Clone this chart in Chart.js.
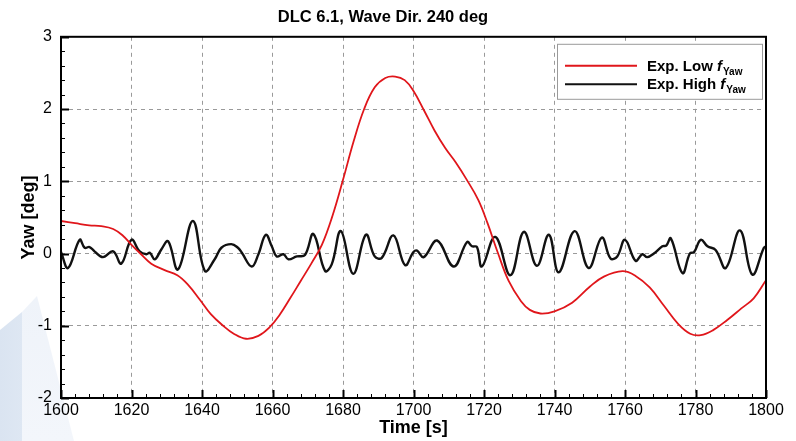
<!DOCTYPE html>
<html>
<head>
<meta charset="utf-8">
<script src="https://cdn.jsdelivr.net/npm/chart.js@4.4.0/dist/chart.umd.min.js"></script>
<style>
html, body { margin: 0; padding: 0; background: #fff; }
#wrap { position: relative; width: 796px; height: 441px; overflow: hidden; }
.deco { position: absolute; left: 0; top: 0; width: 90px; height: 441px; }
#deco1 { clip-path: polygon(0 330px, 22px 312px, 22px 441px, 0 441px); background: linear-gradient(90deg, #dae4f1, #eaf0f8); }
#deco2 { clip-path: polygon(22px 312px, 37px 296px, 74px 441px, 22px 441px); background: linear-gradient(180deg, #e6edf6, #f3f6fb); }
canvas { position: absolute; left: 0; top: 0; }
</style>
</head>
<body>
<div id="wrap">
  <div class="deco" id="deco1"></div>
  <div class="deco" id="deco2"></div>
  <canvas id="yaw-chart" width="796" height="441"></canvas>
</div>
<script>
// axis setup
const xMin = 1600, xMax = 1800, xStep = 20, xMinorPerStep = 5;
const yMin = -2, yMax = 3, yStep = 1, yMinorPerStep = 5;

const seriesNames = ['Exp. Low', 'Exp. High'];
const seriesColors = ['#e0161b', '#111111'];

// Exp. Low f_Yaw (red)
const lowTime = [1600, 1604, 1608, 1611.4, 1614.8, 1617.5, 1620, 1622.5, 1625.6, 1629.4, 1633,
    1636, 1639.4, 1642.5, 1646, 1649, 1652.5, 1656, 1659, 1662, 1665, 1668, 1671, 1674, 1677, 1680,
    1683, 1686, 1689, 1692, 1694.8, 1697.5, 1700, 1703, 1706, 1709, 1712, 1715, 1718.4, 1721, 1724, 1727,
    1730.5, 1733, 1736, 1740, 1745, 1750, 1754, 1759.3, 1763, 1767, 1771, 1775, 1778.5, 1781.5,
    1785, 1789, 1793, 1796.5, 1800];
const lowYaw = [0.45, 0.42, 0.39, 0.38, 0.34, 0.25, 0.12, 0.0, -0.14, -0.23, -0.3,
    -0.43, -0.64, -0.84, -1.0, -1.11, -1.18, -1.14, -1.03, -0.85, -0.62, -0.38, -0.14, 0.12, 0.52, 1.02,
    1.55, 2.0, 2.3, 2.43, 2.45, 2.4, 2.25, 1.98, 1.7, 1.46, 1.26, 1.03, 0.74, 0.42, 0.0, -0.38,
    -0.66, -0.78, -0.83, -0.8, -0.68, -0.46, -0.32, -0.245, -0.31, -0.47, -0.72, -0.97, -1.11, -1.13,
    -1.06, -0.92, -0.76, -0.62, -0.37];

// Exp. High f_Yaw (black)
const highTime = [1600, 1602, 1605.3, 1606.7, 1608.1, 1609.5, 1611.9, 1614.8, 1617.1, 1620, 1622.3, 1624.2,
    1625.2, 1626.6, 1628.5, 1630.4, 1633.2, 1637.4, 1640.8, 1643.6, 1645.5, 1648.3, 1650.2, 1651.3, 1654.1,
    1656, 1658.1, 1659.8, 1661.2, 1663.1, 1664.5, 1666.9, 1669.2, 1671.6, 1674.9, 1676.8, 1679.4, 1682.9,
    1686.5, 1689, 1691, 1694.3, 1697.6, 1700, 1701, 1702.9, 1706.7, 1711.4, 1715.2, 1716.6, 1718, 1719.4,
    1723.2, 1727.5, 1731.3, 1735, 1738.4, 1741.2, 1745.7, 1749.7, 1753.4, 1755.9, 1757.8, 1760, 1763,
    1764.9, 1766.3, 1768.2, 1770.6, 1771.7, 1773, 1776.3, 1778.4, 1779.6, 1781.5, 1783.4, 1785.7, 1788.6,
    1792.6, 1796.1, 1799.4, 1800];
const highYaw = [0.02, -0.2, 0.19, 0.08, 0.09, 0.03, -0.05, 0.03, -0.14, 0.19, 0.03, -0.01,
    0.01, -0.08, 0.06, 0.17, -0.22, 0.45, -0.24, -0.08, 0.08, 0.13, 0.08, 0.01, -0.18,
    -0.01, 0.26, 0.10, -0.04, -0.01, -0.08, -0.04, -0.02, 0.27, -0.24, -0.15, 0.31, -0.28,
    0.26, -0.04, -0.06, 0.25, -0.16, 0.02, 0.04, -0.05, 0.18, -0.18, 0.16, 0.10, 0.09, -0.18,
    0.23, -0.30, 0.30, -0.17, 0.26, -0.26, 0.31, -0.2, 0.22, -0.07, -0.04, 0.19, -0.10,
    -0.01, -0.05, 0.0, 0.10, 0.11, 0.21, -0.27, 0.0, 0.02, 0.19, 0.10, 0.05, -0.2,
    0.32, -0.29, 0.08, 0.10];

const narrowFont = "'Liberation Sans Narrow', 'Liberation Sans', Arial, sans-serif";
const boldFont = "'Liberation Sans', Arial, sans-serif";

function toPoints(ts, vs) {
    return ts.map((t, i) => ({ x: t, y: vs[i] }));
}

// frame, inward ticks and the legend box
const frameAndTicks = {
    id: 'frameAndTicks',
    afterDatasetsDraw(chart) {
        const { ctx, chartArea: a, scales: { x, y } } = chart;
        ctx.save();
        ctx.strokeStyle = '#000';

        // bottom ticks
        const nx = (xMax - xMin) / xStep * xMinorPerStep;
        for (let i = 0; i <= nx; i++) {
            const px = Math.round(x.getPixelForValue(xMin + i * xStep / xMinorPerStep)) + 0.5;
            const major = i % xMinorPerStep === 0;
            ctx.lineWidth = major ? 2 : 1;
            ctx.beginPath();
            ctx.moveTo(px, a.bottom);
            ctx.lineTo(px, a.bottom - (major ? 8 : 4));
            ctx.stroke();
        }
        // left ticks
        const ny = (yMax - yMin) / yStep * yMinorPerStep;
        for (let i = 0; i <= ny; i++) {
            const py = Math.round(y.getPixelForValue(yMin + i * yStep / yMinorPerStep)) + 0.5;
            const major = i % yMinorPerStep === 0;
            ctx.lineWidth = major ? 2 : 1;
            ctx.beginPath();
            ctx.moveTo(a.left, py);
            ctx.lineTo(a.left + (major ? 8 : 4), py);
            ctx.stroke();
        }

        // frame
        ctx.lineWidth = 2;
        ctx.strokeRect(a.left, a.top, a.right - a.left, a.bottom - a.top);

        // legend
        const bx = a.right - 209, by = a.top + 7, bw = 205, bh = 55;
        ctx.fillStyle = '#fff';
        ctx.fillRect(bx, by, bw, bh);
        ctx.strokeStyle = '#9a9a9a';
        ctx.lineWidth = 1;
        ctx.strokeRect(bx + 0.5, by + 0.5, bw, bh);

        chart.data.datasets.forEach((ds, i) => {
            const ly = by + 22 + i * 18.5;
            ctx.strokeStyle = ds.borderColor;
            ctx.lineWidth = 2;
            ctx.beginPath();
            ctx.moveTo(bx + 8, ly);
            ctx.lineTo(bx + 80, ly);
            ctx.stroke();

            ctx.fillStyle = '#000';
            ctx.textBaseline = 'alphabetic';
            let tx = bx + 90;
            ctx.font = "bold 15px " + boldFont;
            const base = seriesNames[i] + ' ';
            ctx.fillText(base, tx, ly + 5);
            tx += ctx.measureText(base).width;
            ctx.font = "italic bold 15px " + boldFont;
            ctx.fillText('f', tx, ly + 5);
            tx += ctx.measureText('f').width + 1;
            ctx.font = "bold 10px " + boldFont;
            ctx.fillText('Yaw', tx, ly + 9);
        });
        ctx.restore();
    }
};

const ctx = document.getElementById('yaw-chart').getContext('2d');

const yawChart = new Chart(ctx, {
    type: 'line',
    data: {
        datasets: [{
            label: seriesNames[0] + ' fYaw',
            data: toPoints(lowTime, lowYaw),
            borderColor: seriesColors[0],
            borderWidth: 1.8,
            pointRadius: 0,
            tension: 0.4,
            fill: false
        },
        {
            label: seriesNames[1] + ' fYaw',
            data: toPoints(highTime, highYaw),
            borderColor: seriesColors[1],
            borderWidth: 2.4,
            pointRadius: 0,
            tension: 0.4,
            fill: false
        }]
    },
    plugins: [frameAndTicks],
    options: {
        responsive: false,
        animation: false,
        layout: {
            padding: { left: 0, right: 30, top: 0, bottom: 0 }
        },
        scales: {
            x: {
                type: 'linear',
                min: xMin,
                max: xMax,
                afterFit: (scale) => { scale.height = 43; },
                ticks: {
                    stepSize: xStep,
                    autoSkip: false,
                    maxRotation: 0,
                    padding: 3,
                    color: '#000',
                    font: { family: narrowFont, size: 16 },
                    callback: (v) => String(v)
                },
                grid: {
                    color: '#9a9a9a',
                    lineWidth: 1,
                    drawTicks: false
                },
                border: { display: false, dash: [4, 4] },
                title: {
                    display: true,
                    text: 'Time [s]',
                    color: '#000',
                    font: { family: boldFont, size: 18, weight: 'bold' },
                    padding: { top: 0, bottom: 2 }
                }
            },
            y: {
                min: yMin,
                max: yMax,
                afterFit: (scale) => { scale.width = 61; },
                ticks: {
                    stepSize: yStep,
                    autoSkip: false,
                    padding: 9,
                    color: '#000',
                    font: { family: narrowFont, size: 16 }
                },
                grid: {
                    color: '#9a9a9a',
                    lineWidth: 1,
                    drawTicks: false
                },
                border: { display: false, dash: [4, 4] },
                title: {
                    display: true,
                    text: 'Yaw [deg]',
                    color: '#000',
                    font: { family: boldFont, size: 18, weight: 'bold' },
                    padding: { top: 18, bottom: 0 }
                }
            }
        },
        plugins: {
            legend: { display: false },
            tooltip: { enabled: false },
            title: {
                display: true,
                text: 'DLC 6.1, Wave Dir. 240 deg',
                color: '#000',
                font: { family: boldFont, size: 16.5, weight: 'bold' },
                padding: { top: 8, bottom: 9 }
            }
        }
    }
});
</script>
</body>
</html>
